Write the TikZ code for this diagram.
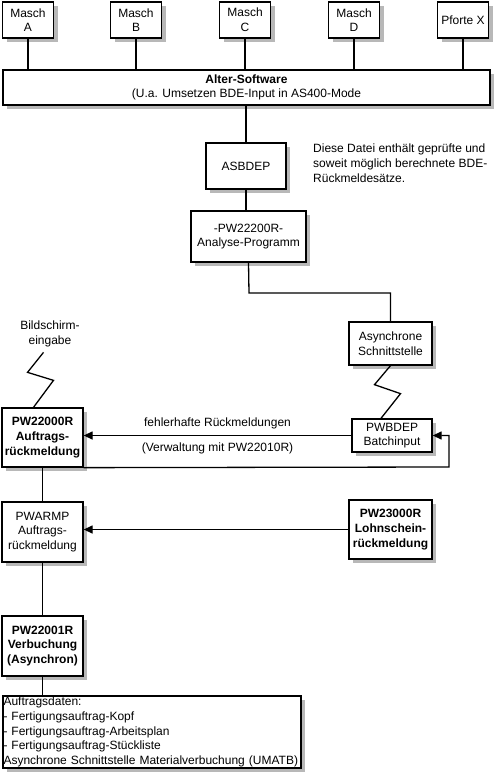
\documentclass[tikz,border=0pt]{standalone}
\usepackage{fontspec}
\setmainfont{Liberation Sans}
\usetikzlibrary{positioning,shapes,arrows.meta,shadows,calc}

\tikzset{
    box/.style={draw, line width=1.3pt, fill=white, align=center, inner sep=1pt,
        drop shadow={shadow xshift=4pt, shadow yshift=-4pt, fill=black!28, opacity=1}},
    conn/.style={line width=1.3pt},
    arr/.style={conn, -{Triangle[length=9pt,width=8pt]}}
}

\begin{document}
\begin{tikzpicture}[x=1pt, y=-1pt, font=\fontsize{12}{14.6}\selectfont]
    % Frame
    \useasboundingbox (0,0) rectangle (494,773);

    % Machines and gate
    \node[box, minimum width=51pt, minimum height=36pt] (mascha) at (28,20) {Masch\\A};
    \node[box, minimum width=51pt, minimum height=36pt] (maschb) at (136,20) {Masch\\B};
    \node[box, minimum width=51pt, minimum height=36pt] (maschc) at (245,20) {Masch\\C};
    \node[box, minimum width=51pt, minimum height=36pt] (maschd) at (354,20) {Masch\\D};
    \node[box, minimum width=51pt, minimum height=36pt] (pfortex) at (463,20) {Pforte X};

    % Alter-Software
    \node[box, minimum width=487pt, minimum height=35pt] (alter) at (246.5,87.5)
        {\textbf{Alter-Software}\\(U.a. Umsetzen BDE-Input in AS400-Mode};

    % Chain down to the batch input
    \node[box, minimum width=80pt, minimum height=46pt] (asbdep) at (246,166) {ASBDEP};
    \node[box, minimum width=115pt, minimum height=51pt] (analyse) at (248.5,236.5) {-PW22200R-\\Analyse-Programm};
    \node[anchor=north west, align=left, inner sep=0pt] (hinweis) at (313,144)
        {Diese Datei enthält geprüfte und\\soweit möglich berechnete BDE-\\Rückmeldesätze.};
    \node[box, minimum width=83pt, minimum height=43pt] (async) at (390.5,343.5) {Asynchrone\\Schnittstelle};
    \node[box, minimum width=80pt, minimum height=33pt] (pwbdep) at (392,435.5) {PWBDEP\\Batchinput};

    % Left column
    \node[align=center, inner sep=0pt] (bildschirm) at (50,334) {Bildschirm-\\eingabe};
    \node[box, font=\fontsize{12}{14.6}\selectfont\bfseries, minimum width=81pt, minimum height=59pt] (auftragsrm) at (42.5,437.5)
        {PW22000R\\Auftrags-\\rückmeldung};
    \node[box, minimum width=81pt, minimum height=60pt] (pwarmp) at (42.5,532) {PWARMP\\Auftrags-\\rückmeldung};
    \node[box, font=\fontsize{12}{14.6}\selectfont\bfseries, minimum width=83pt, minimum height=59pt] (lohnschein) at (390.5,529.5)
        {PW23000R\\Lohnschein-\\rückmeldung};
    \node[box, font=\fontsize{12}{14.6}\selectfont\bfseries, minimum width=81pt, minimum height=60pt] (verbuchung) at (42.5,646)
        {PW22001R\\Verbuchung\\(Asynchron)};
    \node[box, align=left, text width=297pt, minimum height=72pt, inner sep=0.5pt] (auftragsdaten) at (152,732)
        {Auftragsdaten:\\- Fertigungsauftrag-Kopf\\- Fertigungsauftrag-Arbeitsplan\\- Fertigungsauftrag-Stückliste\\Asynchrone Schnittstelle Materialverbuchung (UMATB)};

    % Connectors
    \foreach \m in {mascha,maschb,maschc,maschd,pfortex}
        \draw[conn] (\m.south) -- (\m.south |- alter.north);
    \draw[conn] (asbdep.north) -- (asbdep.north |- alter.south);
    \draw[conn] (asbdep.south) -- (asbdep.south |- analyse.north);
    \coordinate (knick) at (249,293);
    \draw[conn] (analyse.south) -- (knick) -| (async.north);
    \draw[conn] (async.south) -- ++(-16,19) -- ++(26,9) -- ([xshift=-11pt]pwbdep.north);
    \draw[conn] ([xshift=-9pt]auftragsrm.north) -- ++(20,-27) -- ++(-26,-8) -- ++(16,-20);
    \draw[arr] (pwbdep.west) -- (pwbdep.west -| auftragsrm.east)
        node[midway, above=3pt] {fehlerhafte Rückmeldungen}
        node[midway, below=3pt] {(Verwaltung mit PW22010R)};
    \coordinate (schleife) at (449,467);
    \draw[arr] (auftragsrm.south east) -- (schleife) |- (pwbdep.east);
    \draw[conn] (auftragsrm.south) -- (pwarmp.north);
    \draw[arr] (lohnschein.west) -- (lohnschein.west -| pwarmp.east);
    \draw[conn] (pwarmp.south) -- (verbuchung.north);
    \draw[conn] (verbuchung.south) -- (verbuchung.south |- auftragsdaten.north);
\end{tikzpicture}
\end{document}
